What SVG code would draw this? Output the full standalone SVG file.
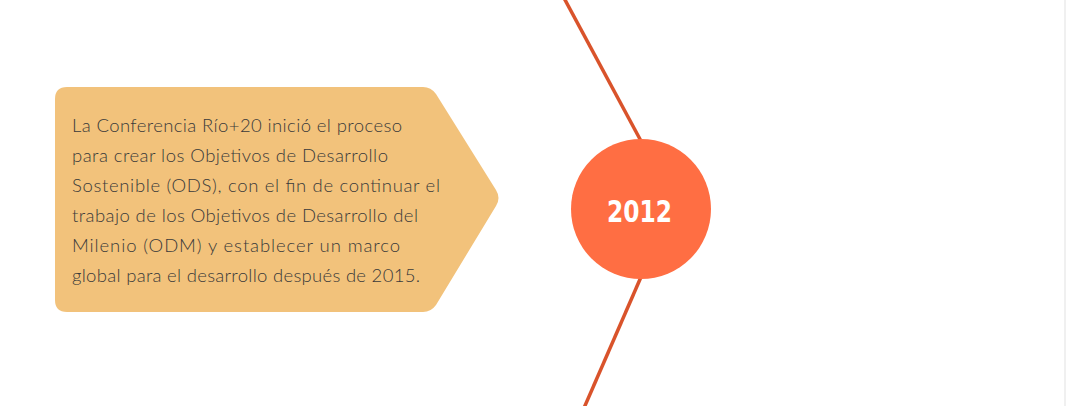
<svg xmlns="http://www.w3.org/2000/svg" width="1066" height="406" viewBox="0 0 1066 406">
<style>
.t{font-family:"Lato","Liberation Sans",sans-serif;font-weight:300;font-size:18.5px;fill:#3a3a3a}
.yr{font-family:"DejaVu Sans Condensed","DejaVu Sans","Liberation Sans",sans-serif;font-weight:bold;font-size:31px;fill:#ffffff}
.ln{stroke:#d9532b;stroke-width:3.5;fill:none}
</style>
<rect width="1066" height="406" fill="#ffffff"/>
<line x1="1065" y1="0" x2="1065" y2="406" stroke="#ebebeb" stroke-width="1.5"/>
<g id="connectors">
<line class="ln" x1="564" y1="-2" x2="641" y2="141"/>
<line class="ln" x1="641" y1="277" x2="584" y2="408"/>
</g>
<g id="note">
<path d="M67,87 L423,87 Q431,87 436,94 L496,190 Q501,198 496,206 L436,305 Q431,312 423,312 L67,312 Q55,312 55,300 L55,99 Q55,87 67,87 Z" fill="#f2c27b"/>
<text class="t" x="72" y="132" textLength="330" lengthAdjust="spacing">La Conferencia Río+20 inició el proceso</text>
<text class="t" x="72" y="162" textLength="316" lengthAdjust="spacing">para crear los Objetivos de Desarrollo</text>
<text class="t" x="72" y="192" textLength="368" lengthAdjust="spacing">Sostenible (ODS), con el fin de continuar el</text>
<text class="t" x="72" y="222" textLength="346" lengthAdjust="spacing">trabajo de los Objetivos de Desarrollo del</text>
<text class="t" x="72" y="252" textLength="328" lengthAdjust="spacing">Milenio (ODM) y establecer un marco</text>
<text class="t" x="72" y="282" textLength="348" lengthAdjust="spacing">global para el desarrollo después de 2015.</text>
</g>
<g id="year">
<circle cx="641" cy="209" r="70" fill="#ff6e43"/>
<text class="yr" x="607" y="222" textLength="65" lengthAdjust="spacingAndGlyphs">2012</text>
</g>
</svg>
